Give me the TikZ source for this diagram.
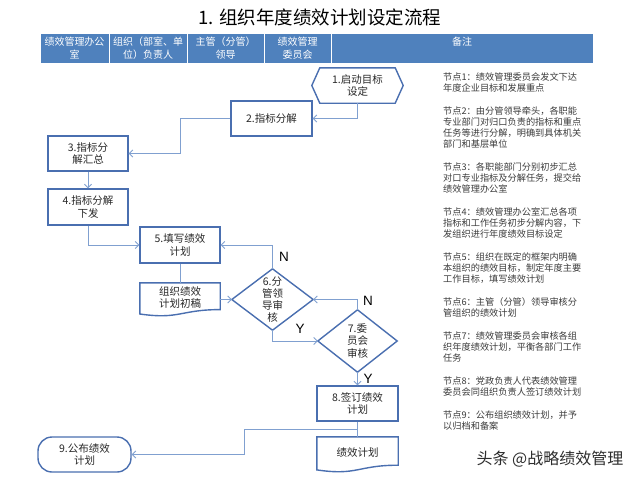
\documentclass[tikz,border=0pt]{standalone}
\usepackage{fontspec}
\setmainfont{Noto Sans CJK SC}
\newfontfamily\latinfont{Liberation Sans}
\usetikzlibrary{arrows.meta,calc}
\definecolor{hdrblue}{RGB}{79,129,189}
\definecolor{boxblue}{RGB}{74,111,176}
\definecolor{linkblue}{RGB}{128,160,208}
\definecolor{txt}{RGB}{40,40,40}
\definecolor{notetxt}{RGB}{60,60,60}
\definecolor{wmtxt}{RGB}{45,45,45}
\begin{document}
\begin{tikzpicture}[x=1pt,y=-1pt,
  hdr/.style={fill=hdrblue,draw=white,line width=0.8pt,text=white,
    font=\fontsize{10}{12.5}\selectfont,align=center,inner sep=0pt,minimum height=30pt},
  plain/.style={minimum width=80pt,minimum height=35pt,align=center,
    font=\fontsize{10.5}{12.5}\selectfont,text=txt,inner sep=0pt},
  box/.style={plain,draw=boxblue,line width=1.4pt,fill=white},
  shapeline/.style={draw=boxblue,line width=1.4pt,fill=white,line join=miter},
  link/.style={draw=linkblue,line width=0.9pt,-{Straight Barb[length=3.5pt,width=7pt]}},
  joinline/.style={draw=linkblue,line width=0.9pt},
  lbl/.style={font=\latinfont\fontsize{13.5}{14}\selectfont,text=black,inner sep=0pt},
  note/.style={anchor=north west,inner sep=0pt,align=left,
    font=\fontsize{9.2}{11}\selectfont,text=notetxt}
]
\path[use as bounding box,fill=white] (0,0) rectangle (640,480);

% title
\node[font=\fontsize{18.5}{20}\selectfont,text=black] (title) at (320,17) {1. 组织年度绩效计划设定流程};

% header
\node[hdr,minimum width=69pt] (h1) at (74.5,48) {绩效管理办公\\室};
\node[hdr,minimum width=78pt] (h2) at (148,48) {组织（部室、单\\位）负责人};
\node[hdr,minimum width=77pt] (h3) at (225.5,48) {主管（分管）\\领导};
\node[hdr,minimum width=67pt] (h4) at (297.5,48) {绩效管理\\委员会};
\node[hdr,minimum width=262pt] (h5) at (462,48) {备注\\\phantom{备注}};

% node 1 (hexagon)
\node[plain,minimum width=91pt] (n1) at (357.5,85.5) {};
\draw[shapeline] (n1.west) -- ([xshift=8pt]n1.north west) -- ([xshift=-8pt]n1.north east)
  -- (n1.east) -- ([xshift=-8pt]n1.south east) -- ([xshift=8pt]n1.south west) -- cycle;
\node[plain] at (n1) {1.启动目标\\设定};

\node[box,minimum width=81pt] (n2) at (271.5,118.5) {2.指标分解};
\node[box] (n3) at (88,153.5) {3.指标分\\解汇总};
\node[box,minimum height=36pt] (n4) at (88,207) {4.指标分解\\下发};
\node[box,minimum height=36pt] (n5) at (180,245) {5.填写绩效\\计划};

% document 1
\node[plain,minimum height=33pt] (d5) at (180,299.5) {};
\draw[shapeline] (d5.north west) -- (d5.north east) -- ([yshift=6.6pt]d5.south east)
  .. controls ([yshift=6.6pt]d5.south) and ([yshift=-3.5pt]d5.south) .. ([yshift=2.2pt]d5.south west) -- cycle;
\node[plain] at ([yshift=2pt]d5.center) {组织绩效\\计划初稿};

% diamond 6
\node[plain,minimum width=81pt,minimum height=61pt] (n6) at (272.5,299.5) {};
\draw[shapeline] (n6.west) -- (n6.north) -- (n6.east) -- (n6.south) -- cycle;
\node[plain,font=\fontsize{10.5}{12}\selectfont] at (n6) {6.分\\管领\\导审\\核};

% diamond 7
\node[plain,minimum width=79pt,minimum height=62pt] (n7) at (357.5,341) {};
\draw[shapeline] (n7.west) -- (n7.north) -- (n7.east) -- (n7.south) -- cycle;
\node[plain] at (n7) {7.委\\员会\\审核};

\node[box,minimum width=81pt] (n8) at (357.5,403.5) {8.签订绩效\\计划};

% document 2
\node[plain,minimum width=81pt,minimum height=35pt] (d8) at (357.5,454.5) {};
\draw[shapeline] (d8.north west) -- (d8.north east) -- ([yshift=7pt]d8.south east)
  .. controls ([yshift=7pt]d8.south) and ([yshift=-3.7pt]d8.south) .. ([yshift=2.3pt]d8.south west) -- cycle;
\node[plain] at ([yshift=2pt]d8.center) {绩效计划};

\node[box,rounded corners=14pt,minimum width=93pt] (n9) at (84.5,454.5) {9.公布绩效\\计划};

% connectors
\draw[link] (n1.south) |- (n2.east);
\coordinate (k23) at (180,118.5);
\draw[link] (n2.west) -- (k23) |- (n3.east);
\draw[link] (n3.south) -- (n4.north);
\draw[link] (n4.south) |- (n5.west);
\draw[joinline] (n5.south) -- (d5.north);
\draw[link] (d5.east) -- (n6.west);
\draw[link] (n6.north) |- (n5.east);
\draw[link] (n7.north) |- (n6.east);
\draw[link] (n6.south) |- (n7.west);
\draw[link] (n7.south) -- (n8.north);
\draw[joinline] (n8.south) -- (d8.north);
\coordinate (j8) at ($(n8.south)!0.5!(d8.north)$);
\coordinate (k89) at (244,429);
\draw[link] (j8) -- (j8 -| k89) |- (n9.east);

% labels
\node[lbl] (lN1) at (284,257) {N};
\node[lbl] (lY1) at (300,329) {Y};
\node[lbl] (lN2) at (368,301) {N};
\node[lbl] (lY2) at (368,379) {Y};

% notes
\node[note] (t1) at (443,72.4) {节点1：绩效管理委员会发文下达\\年度企业目标和发展重点};
\node[note] (t2) at (443,106.4) {节点2：由分管领导牵头，各职能\\专业部门对归口负责的指标和重点\\任务等进行分解，明确到具体机关\\部门和基层单位};
\node[note] (t3) at (443,162.4) {节点3：各职能部门分别初步汇总\\对口专业指标及分解任务，提交给\\绩效管理办公室};
\node[note] (t4) at (443,207.4) {节点4：绩效管理办公室汇总各项\\指标和工作任务初步分解内容，下\\发组织进行年度绩效目标设定};
\node[note] (t5) at (443,252.4) {节点5：组织在既定的框架内明确\\本组织的绩效目标，制定年度主要\\工作目标，填写绩效计划};
\node[note] (t6) at (443,297.4) {节点6：主管（分管）领导审核分\\管组织的绩效计划};
\node[note] (t7) at (443,331.4) {节点7：绩效管理委员会审核各组\\织年度绩效计划，平衡各部门工作\\任务};
\node[note] (t8) at (443,376.4) {节点8：党政负责人代表绩效管理\\委员会同组织负责人签订绩效计划};
\node[note] (t9) at (443,410.4) {节点9：公布组织绩效计划，并予\\以归档和备案};

% watermark
\node[font=\fontsize{16}{16}\selectfont,text=wmtxt,inner sep=0pt] (wm) at (550,459) {头条 @战略绩效管理};
\end{tikzpicture}
\end{document}
